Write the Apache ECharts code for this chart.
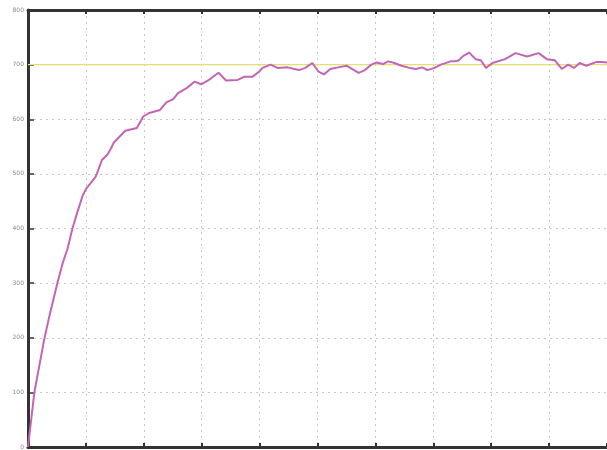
<!DOCTYPE html>
<html>
<head>
<meta charset="utf-8">
<script src="https://cdn.jsdelivr.net/npm/echarts@6/dist/echarts.min.js"></script>
<style>
  html, body { margin: 0; padding: 0; background: #fff; }
  #chart { width: 607px; height: 450px; }
</style>
</head>
<body>
<div id="chart"></div>
<script>
// sampled response curve
const xValues = [0, 1.1, 2.8, 3.7, 5.1, 6.0, 6.8, 7.7, 8.5, 9.4, 10.0, 11.7, 12.8, 13.7, 14.2, 14.8,
  16.8, 18.8, 19.9, 20.8, 22.8, 23.9, 25.1, 25.9, 27.4, 28.8, 29.9, 31.1, 32.9, 34.2, 36.2, 37.4,
  38.8, 39.9, 40.5, 41.9, 43.1, 44.8, 46.8, 47.9, 49.1, 50.2, 51.1, 52.2, 53.6, 55.0, 57.1, 58.2,
  59.3, 60.2, 61.3, 62.2, 63.3, 64.5, 65.9, 67.0, 68.1, 69.0, 70.2, 71.3, 73.0, 73.9, 74.4, 75.2,
  76.2, 77.3, 78.2, 79.1, 80.2, 82.4, 84.2, 86.2, 88.2, 89.6, 91.0, 92.2, 93.3, 94.3, 95.3, 96.4,
  98.2, 99.0, 100];
const yValues = [0, 100, 197, 240, 301, 337, 362, 401, 429, 459, 472, 495, 526, 535, 544, 557,
  579, 584, 605, 611, 617, 631, 637, 648, 657, 669, 664, 671, 685, 671, 672, 678,
  678, 687, 694, 700, 694, 695, 690, 694, 703, 687, 682, 692, 695, 698, 685, 690,
  700, 704, 701, 706, 703, 698, 694, 692, 695, 690, 694, 700, 706, 706, 708, 716,
  722, 710, 708, 694, 703, 710, 721, 715, 721, 710, 708, 692, 700, 694, 703, 698,
  705, 705, 704];
// set point line
const refX = [0, 100];
const refY = [700, 700];

const chart = echarts.init(document.getElementById('chart'));

const axisDark = { show: true, lineStyle: { color: '#333', width: 3 } };
const gridDots = { show: true, lineStyle: { color: '#c8c8c8', type: [2, 4], width: 1 } };

chart.setOption({
  animation: false,
  backgroundColor: '#fff',
  grid: { left: 28, right: -6, top: 10, bottom: 2, containLabel: false },
  xAxis: [
    {
      type: 'value', min: 0, max: 100, interval: 10, position: 'bottom',
      axisLine: axisDark,
      axisTick: { show: true, inside: true, length: 4, lineStyle: { color: '#333', width: 2 } },
      axisLabel: { show: false },
      splitLine: gridDots
    },
    {
      type: 'value', min: 0, max: 100, interval: 10, position: 'top',
      axisLine: axisDark,
      axisTick: { show: true, inside: true, length: 4, lineStyle: { color: '#333', width: 2 } },
      axisLabel: { show: false },
      splitLine: { show: false }
    }
  ],
  yAxis: {
    type: 'value', min: 0, max: 800, interval: 100,
    axisLine: axisDark,
    axisTick: { show: true, inside: true, length: 6, lineStyle: { color: '#333', width: 1.5 } },
    axisLabel: { fontSize: 6, color: '#888', margin: 4, fontFamily: 'DejaVu Sans' },
    splitLine: gridDots
  },
  series: [
    {
      type: 'line',
      data: refX.map((x, i) => [x, refY[i]]),
      symbol: 'none',
      lineStyle: { color: '#e2e070', width: 1.3 },
      z: 2
    },
    {
      type: 'line',
      data: xValues.map((x, i) => [x, yValues[i]]),
      symbol: 'none',
      lineStyle: { color: '#c464b6', width: 2 },
      z: 3
    }
  ]
});
</script>
</body>
</html>
